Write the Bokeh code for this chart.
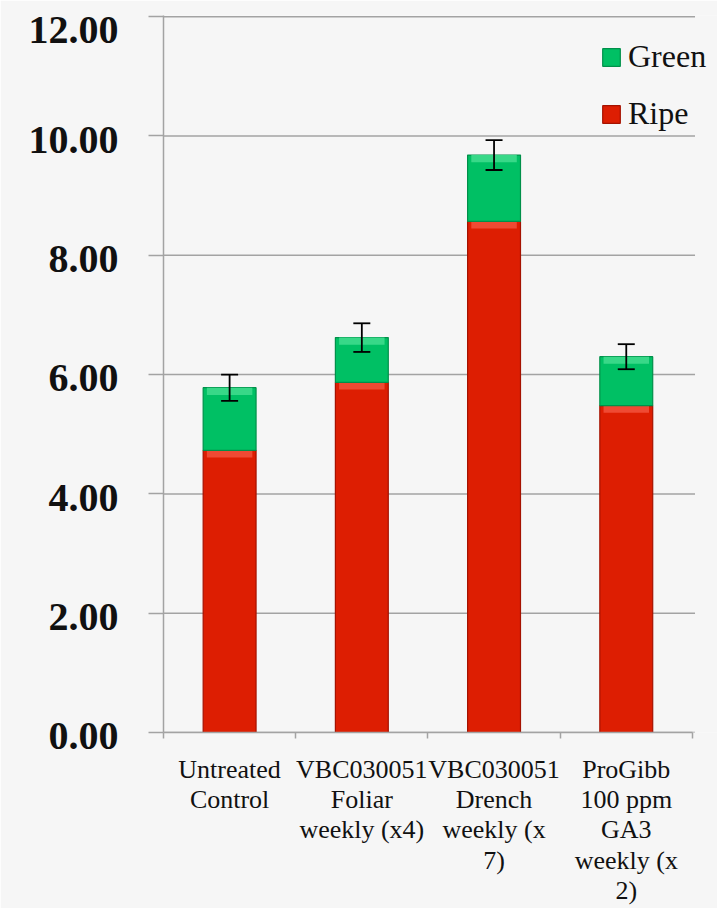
from bokeh.plotting import figure
from bokeh.models import (Range1d, FixedTicker, Whisker, ColumnDataSource, Legend,
                          LegendItem, TeeHead)
from bokeh.embed import file_html
from bokeh.resources import INLINE

# ---- data ----
categories = ["Untreated\nControl",
              "VBC030051\nFoliar\nweekly (x4)",
              "VBC030051\nDrench\nweekly (x\n7)",
              "ProGibb\n100 ppm\nGA3\nweekly (x\n2)"]
ripe = [4.73, 5.87, 8.57, 5.48]
green = [1.05, 0.75, 1.11, 0.82]
err = [0.22, 0.24, 0.25, 0.21]
y_ticks = [0, 2, 4, 6, 8, 10, 12]
y_tick_labels = ["0.00", "2.00", "4.00", "6.00", "8.00", "10.00", "12.00"]

n = len(categories)
centers = [i + 0.5 for i in range(n)]
boundaries = list(range(n + 1))
totals = [r + g for r, g in zip(ripe, green)]

X_END = 4.19      # visible x extent (categories occupy 0..4)
GRID_END = 4.02   # where the horizontal gridlines stop

src = ColumnDataSource(dict(
    x=centers, ripe=ripe, total=totals,
    ripe_hl=[r - 0.12 for r in ripe], total_hl=[t - 0.12 for t in totals],
    upper=[t + e for t, e in zip(totals, err)],
    lower=[t - e for t, e in zip(totals, err)],
))
grid_src = ColumnDataSource(dict(y=y_ticks, x0=[0] * len(y_ticks), x1=[GRID_END] * len(y_ticks)))

FONT = "Liberation Serif"
GRID = "#a3a3a3"
BG = "#f6f6f6"

p = figure(width=717, height=908, x_range=Range1d(0, X_END), y_range=Range1d(0, 12.02),
           output_backend="svg", toolbar_location=None,
           min_border_left=163, min_border_right=0, min_border_top=15, min_border_bottom=175)
p.background_fill_color = BG
p.border_fill_color = BG
p.outline_line_color = None

# gridlines
p.segment(x0="x0", x1="x1", y0="y", y1="y", source=grid_src,
          line_color=GRID, line_width=1.5)

BW = 0.40
r_ripe = p.vbar(x="x", bottom=0, top="ripe", width=BW, source=src,
                fill_color="#dd1e02", line_color="#a51200", line_width=1.2)
p.vbar(x="x", bottom="ripe_hl", top="ripe", width=BW * 0.86, source=src,
       fill_color="#ef4a33", line_color=None)
r_green = p.vbar(x="x", bottom="ripe", top="total", width=BW, source=src,
                 fill_color="#00c064", line_color="#00904a", line_width=1.2)
p.vbar(x="x", bottom="total_hl", top="total", width=BW * 0.86, source=src,
       fill_color="#38d888", line_color=None)

wh = Whisker(source=src, base="x", upper="upper", lower="lower",
             line_color="black", line_width=1.8, level="overlay",
             upper_head=TeeHead(size=17, line_color="black", line_width=1.8),
             lower_head=TeeHead(size=17, line_color="black", line_width=1.8))
p.add_layout(wh)

# y axis (a blank first line pushes each label slightly below its gridline)
ya = p.yaxis[0]
ya.ticker = FixedTicker(ticks=y_ticks)
ya.major_label_overrides = {t: "\n" + l for t, l in zip(y_ticks, y_tick_labels)}
ya.major_tick_out = 15
ya.major_tick_in = 0
ya.minor_tick_line_color = None
ya.axis_line_color = GRID
ya.axis_line_width = 1.5
ya.major_tick_line_color = GRID
ya.major_tick_line_width = 1.5
ya.major_label_standoff = 30
ya.major_label_text_font = FONT
ya.major_label_text_font_size = "40px"
ya.major_label_text_font_style = "bold"
ya.major_label_text_color = "#111111"
ya.major_label_text_line_height = 0.15

# x axis
xa = p.xaxis[0]
xa.ticker = FixedTicker(ticks=centers, minor_ticks=boundaries)
xa.major_label_overrides = {c: l for c, l in zip(centers, categories)}
xa.bounds = (0, n)
xa.major_tick_line_color = None
xa.major_tick_out = 0
xa.major_tick_in = 0
xa.minor_tick_out = 6
xa.minor_tick_in = 0
xa.minor_tick_line_color = GRID
xa.minor_tick_line_width = 1.5
xa.axis_line_color = GRID
xa.axis_line_width = 1.5
xa.major_label_standoff = 16
xa.major_label_text_font = FONT
xa.major_label_text_font_size = "26px"
xa.major_label_text_color = "#111111"
xa.major_label_text_line_height = 1.05

p.xgrid.visible = False
p.ygrid.visible = False

legend = Legend(items=[LegendItem(label="Green", renderers=[r_green]),
                       LegendItem(label="Ripe", renderers=[r_ripe])],
                location=(437, 600), orientation="vertical",
                background_fill_alpha=0, border_line_color=None,
                padding=0, margin=0, spacing=20,
                glyph_width=22, glyph_height=22, label_standoff=6,
                label_text_font=FONT, label_text_font_size="32px",
                label_text_color="#111111")
p.add_layout(legend)

open("out.html", "w").write(file_html(p, INLINE))
